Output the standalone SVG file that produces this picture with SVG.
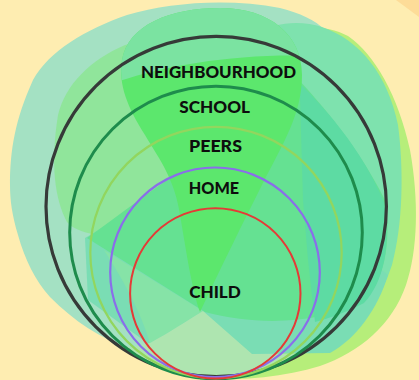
<svg xmlns="http://www.w3.org/2000/svg" width="419" height="380" viewBox="0 0 419 380">
  <style>
    .ring { fill: none; }
    .lbl { font-family: "Lato", "Open Sans", "Liberation Sans", sans-serif; font-weight: 900; font-size: 16px; fill: #0d0d0d; text-anchor: middle; }
  </style>
  <defs>
    <clipPath id="outer"><circle cx="216.2" cy="206.5" r="171"/></clipPath>
    <clipPath id="drop"><path d="M200,312 C192,290 186,250 180,215 C175,180 160,160 145,135 C128,108 118,85 122,60 C128,25 170,8 220,8 C270,8 302,35 302,75 C302,115 282,145 262,185 C242,225 222,265 200,312 Z"/></clipPath>
  </defs>
  <rect width="419" height="380" fill="#FEEDB1"/>
  <g id="background-blobs">
    <polygon points="396,0 419,0 419,17" fill="#FDDC98"/>
    <!-- yellow-green right blob -->
    <path d="M250,40 C290,22 325,24 348,36 C375,55 398,95 410,150 C419,200 418,250 406,285 C392,325 360,352 320,366 C285,377 245,380 200,380 L200,60 Z" fill="#B6EE7A"/>
    <!-- mint left blob -->
    <path d="M127,15 C170,2 230,-2 280,8 C300,13 315,20 325,30 L330,330 L220,378 C190,372 160,360 127,347 C100,338 75,322 50,297 C35,280 25,260 18,235 C12,215 10,200 10,185 C10,150 15,120 33,80 C50,50 85,30 127,15 Z" fill="#A4E1C3"/>
    <!-- light green upper-left blob -->
    <path d="M67,222 C55,200 50,165 58,115 C65,85 90,60 125,45 C170,35 240,40 300,60 L300,160 L93,234 C82,232 72,228 67,222 Z" fill="#90E59B"/>
    <!-- right teal blob -->
    <path d="M250,35 C275,22 300,20 322,27 C360,40 388,75 398,125 C404,170 403,225 392,265 C382,295 368,315 352,333 L315,330 L310,260 L305,200 L300,97 Z" fill="#7EE2AE"/>
    <!-- bottom teal blob -->
    <path d="M85,238 L150,200 L330,230 L388,275 C378,308 357,338 330,353 L252,354 L150,345 L88,300 Z" fill="#7ADDB4"/>
    <!-- medium lower-left patch -->
    <path d="M104,250 L203,311 C185,322 165,335 150,343 C140,310 122,278 104,250 Z" fill="#86E3A7"/>
    <!-- light bottom patch -->
    <path clip-path="url(#outer)" d="M150,343 C170,332 188,320 203,311 L252,354 L330,354 L345,380 L120,380 L120,350 Z" fill="#AEE5B0"/>
    <!-- green central blob -->
    <path d="M87,238 C120,215 150,190 180,172 L230,90 C250,70 262,58 272,52 C310,90 355,140 385,200 C392,245 384,282 362,302 C320,324 255,326 205,312 Z" fill="#65E192"/>
    <!-- dark teal overlap -->
    <path d="M283,68 C325,105 362,150 384,202 C391,245 384,282 364,303 C345,313 330,318 315,322 L308,260 L303,200 L300,97 Z" fill="#5DDBA3"/>
    <!-- teardrop -->
    <path d="M200,312 C192,290 186,250 180,215 C175,180 160,160 145,135 C128,108 118,85 122,60 C128,25 170,8 220,8 C270,8 302,35 302,75 C302,115 282,145 262,185 C242,225 222,265 200,312 Z" fill="#5CE76D"/>
    <path clip-path="url(#drop)" d="M100,88 C150,68 230,52 320,56 L320,0 L100,0 Z" fill="#7BE3A1"/>
  </g>
  <g id="connectors"></g>
  <g id="neighbourhood">
    <circle class="ring" cx="216.2" cy="206.5" r="170.2" stroke="#363a38" stroke-width="3.2"/>
    <text class="lbl" x="218.5" y="77.7" textLength="155" lengthAdjust="spacingAndGlyphs">NEIGHBOURHOOD</text>
  </g>
  <g id="school">
    <circle class="ring" cx="216" cy="232.5" r="146.3" stroke="#1E8C4C" stroke-width="3"/>
    <text class="lbl" x="214.7" y="113.3" textLength="70.7" lengthAdjust="spacingAndGlyphs">SCHOOL</text>
  </g>
  <g id="peers">
    <circle class="ring" cx="216" cy="252.5" r="125.7" stroke="#92D65E" stroke-width="2.2"/>
    <text class="lbl" x="215.5" y="151.7" textLength="53" lengthAdjust="spacingAndGlyphs">PEERS</text>
  </g>
  <g id="home">
    <circle class="ring" cx="215" cy="272.3" r="104.8" stroke="#8A6EEA" stroke-width="2.2"/>
    <text class="lbl" x="214" y="194" textLength="50.3" lengthAdjust="spacingAndGlyphs">HOME</text>
  </g>
  <g id="child">
    <circle class="ring" cx="215.3" cy="293.4" r="85.2" stroke="#E53A36" stroke-width="2"/>
    <text class="lbl" x="215" y="298.3" textLength="51.7" lengthAdjust="spacingAndGlyphs">CHILD</text>
  </g>
</svg>
